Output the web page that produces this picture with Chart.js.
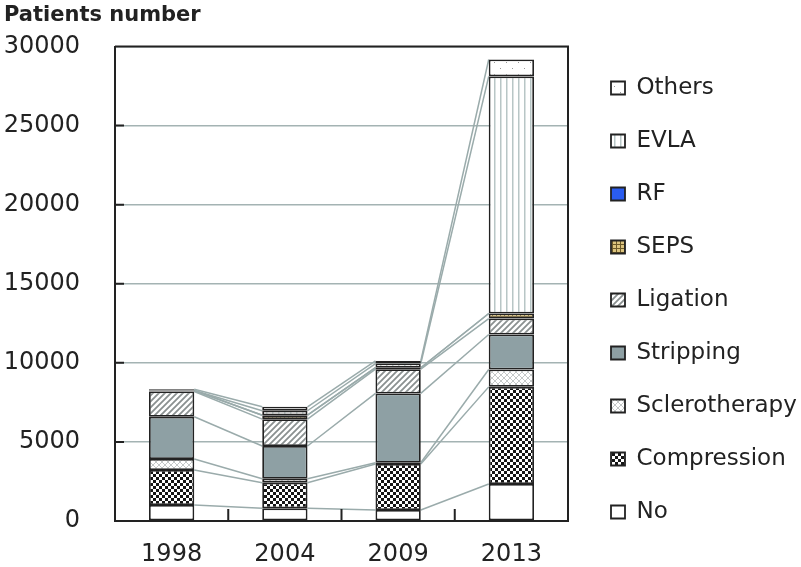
<!DOCTYPE html>
<html>
<head>
<meta charset="utf-8">
<script src="https://cdn.jsdelivr.net/npm/chart.js@4/dist/chart.umd.min.js"></script>
<style>
  html, body { margin: 0; padding: 0; background: #fff; }
  #wrap { width: 801px; height: 567px; }
</style>
</head>
<body>
<div id="wrap"><canvas id="myChart" width="801" height="567"></canvas></div>
<script>
// data (patients per year, by treatment)
const years = ['1998', '2004', '2009', '2013'];
const noTreatment = [1010, 800, 695, 2340];
const compression = [2210, 1620, 2905, 6140];
const sclerotherapy = [700, 250, 80, 1100];
const stripping = [2670, 2070, 4385, 2210];
const ligation = [1600, 1700, 1535, 1010];
const seps = [60, 250, 90, 320];
const rf = [0, 0, 0, 0];
const evla = [0, 280, 265, 14990];
const others = [80, 250, 165, 1070];
const yTicks = [0, 5000, 10000, 15000, 20000, 25000, 30000];

function makePattern(size, draw) {
    const c = document.createElement('canvas');
    c.width = size; c.height = size;
    const g = c.getContext('2d');
    draw(g, size);
    return g.createPattern(c, 'repeat');
}

const pat = {
    no: '#ffffff',
    compression: makePattern(6, (g) => {
        g.fillStyle = '#151515'; g.fillRect(0, 0, 6, 6);
        g.fillStyle = '#ffffff';
        g.fillRect(0, 0, 3, 3); g.fillRect(3, 3, 3, 3);
    }),
    sclero: makePattern(6, (g) => {
        g.fillStyle = '#ffffff'; g.fillRect(0, 0, 6, 6);
        g.strokeStyle = '#c4c8c8'; g.lineWidth = 1;
        g.beginPath();
        g.moveTo(0, 0); g.lineTo(6, 6);
        g.moveTo(6, 0); g.lineTo(0, 6);
        g.stroke();
    }),
    stripping: '#8ea0a4',
    ligation: makePattern(6, (g) => {
        g.fillStyle = '#ffffff'; g.fillRect(0, 0, 6, 6);
        g.strokeStyle = '#8a9090'; g.lineWidth = 1.8;
        g.beginPath();
        g.moveTo(-1, 7); g.lineTo(7, -1);
        g.moveTo(-4, 4); g.lineTo(4, -4);
        g.moveTo(2, 10); g.lineTo(10, 2);
        g.stroke();
    }),
    seps: makePattern(4, (g) => {
        g.fillStyle = '#dcc47e'; g.fillRect(0, 0, 4, 4);
        g.fillStyle = '#6e5a28';
        g.fillRect(0, 0, 4, 1); g.fillRect(0, 0, 1, 4);
    }),
    rf: '#2a5cf0',
    evla: makePattern(6, (g) => {
        g.fillStyle = '#ffffff'; g.fillRect(0, 0, 6, 6);
        g.fillStyle = '#b8c6c6'; g.fillRect(2, 0, 1.5, 6);
    }),
    others: makePattern(12, (g) => {
        g.fillStyle = '#ffffff'; g.fillRect(0, 0, 12, 12);
        g.fillStyle = '#999999';
        g.fillRect(2, 2, 1, 1); g.fillRect(8, 8, 1, 1);
    })
};

function series(label, data, fill) {
    return {
        label: label,
        data: data,
        backgroundColor: fill,
        borderColor: '#222222',
        borderWidth: 1.8,
        borderSkipped: false,
        barPercentage: 0.4,
        categoryPercentage: 1.0
    };
}

// grey lines joining the same segment boundary of neighbouring bars
const connectors = {
    id: 'connectors',
    beforeDatasetsDraw(chart) {
        const ctx = chart.ctx;
        ctx.save();
        ctx.strokeStyle = '#9aabab';
        ctx.lineWidth = 1.5;
        chart.data.datasets.forEach((ds, i) => {
            const bars = chart.getDatasetMeta(i).data;
            for (let j = 0; j < bars.length - 1; j++) {
                const a = bars[j], b = bars[j + 1];
                ctx.beginPath();
                ctx.moveTo(a.x + a.width / 2, a.y);
                ctx.lineTo(b.x - b.width / 2, b.y);
                ctx.stroke();
            }
        });
        ctx.restore();
    }
};

// closed frame plus the short inward tick marks
const frame = {
    id: 'frame',
    afterDatasetsDraw(chart) {
        const {ctx, chartArea: a} = chart;
        const xs = chart.scales.x, ys = chart.scales.y;
        ctx.save();
        ctx.strokeStyle = '#222222';
        ctx.lineWidth = 2;
        ctx.beginPath();
        ctx.moveTo(a.left, a.top); ctx.lineTo(a.right, a.top); ctx.lineTo(a.right, a.bottom);
        ys.ticks.forEach(t => {
            const y = ys.getPixelForValue(t.value);
            ctx.moveTo(a.left, y); ctx.lineTo(a.left + 9, y);
        });
        for (let i = 0; i < years.length - 1; i++) {
            const x = (xs.getPixelForTick(i) + xs.getPixelForTick(i + 1)) / 2;
            ctx.moveTo(x, a.bottom); ctx.lineTo(x, a.bottom - 12);
        }
        ctx.stroke();
        ctx.restore();
    }
};

const ctx = document.getElementById('myChart').getContext('2d');
const chart = new Chart(ctx, {
    type: 'bar',
    data: {
        labels: years,
        datasets: [
            series('No', noTreatment, pat.no),
            series('Compression', compression, pat.compression),
            series('Sclerotherapy', sclerotherapy, pat.sclero),
            series('Stripping', stripping, pat.stripping),
            series('Ligation', ligation, pat.ligation),
            series('SEPS', seps, pat.seps),
            series('RF', rf, pat.rf),
            series('EVLA', evla, pat.evla),
            series('Others', others, pat.others)
        ]
    },
    options: {
        responsive: false,
        animation: false,
        layout: { padding: { left: 4, right: 0, top: 0, bottom: 0 } },
        plugins: {
            title: {
                display: true,
                text: 'Patients number',
                align: 'start',
                color: '#222222',
                font: { family: 'DejaVu Sans', size: 21, weight: 'bold' },
                padding: { top: 2.5, bottom: 18.8 }
            },
            legend: {
                position: 'right',
                reverse: true,
                maxWidth: 220,
                title: { display: true, text: '', font: { size: 10 }, padding: { top: 21, bottom: 0 } },
                labels: {
                    color: '#222222',
                    font: { family: 'DejaVu Sans', size: 23 },
                    boxWidth: 14,
                    boxHeight: 13,
                    padding: 30
                }
            },
            tooltip: { enabled: false }
        },
        scales: {
            x: {
                stacked: true,
                grid: { display: false, drawTicks: false },
                border: { display: true, color: '#222222', width: 2 },
                afterFit: (s) => { s.height = 46; },
                ticks: {
                    color: '#222222',
                    font: { family: 'DejaVu Sans', size: 24 },
                    padding: 19
                }
            },
            y: {
                stacked: true,
                min: 0,
                max: 30000,
                grid: { color: '#a4b3b3', lineWidth: 1.5, drawTicks: false },
                border: { display: true, color: '#222222', width: 2 },
                afterBuildTicks: (s) => { s.ticks = yTicks.map(v => ({ value: v })); },
                afterFit: (s) => { s.width = 111; s.paddingTop = 0; s.paddingBottom = 0; },
                ticks: {
                    color: '#222222',
                    font: { family: 'DejaVu Sans', size: 24 },
                    padding: 35,
                    callback: (v) => String(v)
                }
            },
            gap: {
                position: 'right',
                type: 'linear',
                display: true,
                grid: { display: false, drawTicks: false },
                border: { display: false },
                ticks: { display: false },
                afterFit: (s) => { s.width = 13; }
            }
        }
    },
    plugins: [connectors, frame]
});
</script>
</body>
</html>
